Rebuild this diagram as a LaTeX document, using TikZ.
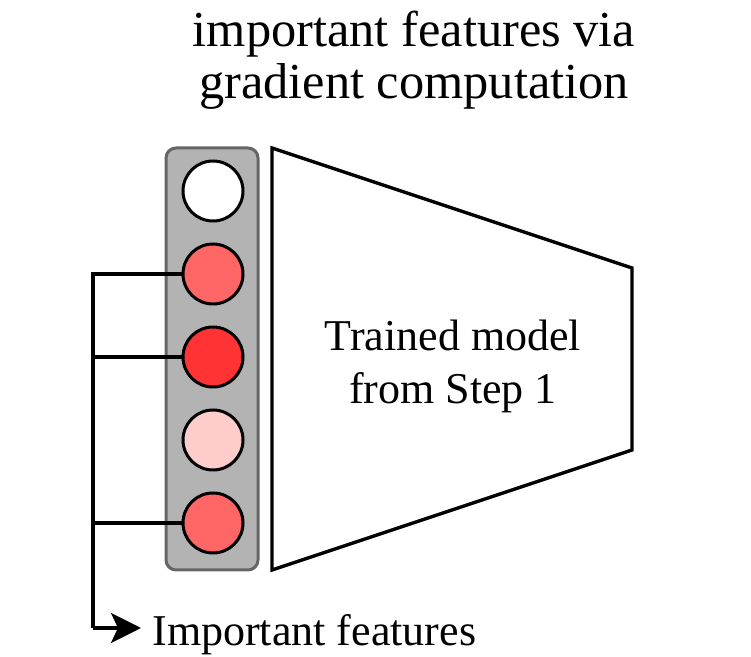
\documentclass[tikz,border=0pt]{standalone}
\usepackage{fontspec}
\setmainfont{Liberation Serif}
\usetikzlibrary{positioning,arrows.meta}
\definecolor{boxgray}{HTML}{B3B3B3}
\definecolor{boxedge}{HTML}{666666}
\definecolor{redmid}{HTML}{FF6666}
\definecolor{redhigh}{HTML}{FF3333}
\definecolor{redlow}{HTML}{FFCCCC}

\begin{document}
\begin{tikzpicture}[x=0.5pt,y=-0.5pt,node distance=41.5pt,on grid,
  feat/.style={circle,draw,line width=1.5pt,minimum size=30pt,inner sep=0pt},
  wire/.style={line width=1.7pt},
  bigtxt/.style={font=\fontsize{22}{26.5}\selectfont,align=center,inner sep=0pt}]
  \useasboundingbox (0,0) rectangle (751,657);
  % input layer
  \draw[boxedge,fill=boxgray,line width=1.5pt,rounded corners=5pt] (166,148) rectangle (258,570);
  \node[feat,fill=white] (f1) at (213,191) {};
  \node[feat,fill=redmid] (f2) [below = of f1] {};
  \node[feat,fill=redhigh] (f3) [below = of f2] {};
  \node[feat,fill=redlow] (f4) [below = of f3] {};
  \node[feat,fill=redmid] (f5) [below = of f4] {};
  % model
  \draw[wire,line join=miter] (272,148) -- (632,268) -- (632,450) -- (272,570) -- cycle;
  \node[bigtxt] (model) at (453,366) {Trained model\\from Step 1};
  \node[bigtxt,font=\fontsize{25.2}{26}\selectfont] (title) at (414,60) {important features via\\gradient computation};
  % selected features
  \coordinate (bus) at (93,275);
  \coordinate (turn) at (93,628);
  \coordinate (tip) at (141,628);
  \node[bigtxt,anchor=west] (imp) at (152,635) {Important features};
  \draw[wire] (f2.west) -- (f2.west -| bus) -- (turn);
  \draw[wire] (f3.west) -- (f3.west -| bus);
  \draw[wire] (f5.west) -- (f5.west -| bus);
  \draw[wire,-{Stealth[length=15pt,width=15pt,inset=3.5pt]}] (turn) -- (tip);
\end{tikzpicture}
\end{document}
